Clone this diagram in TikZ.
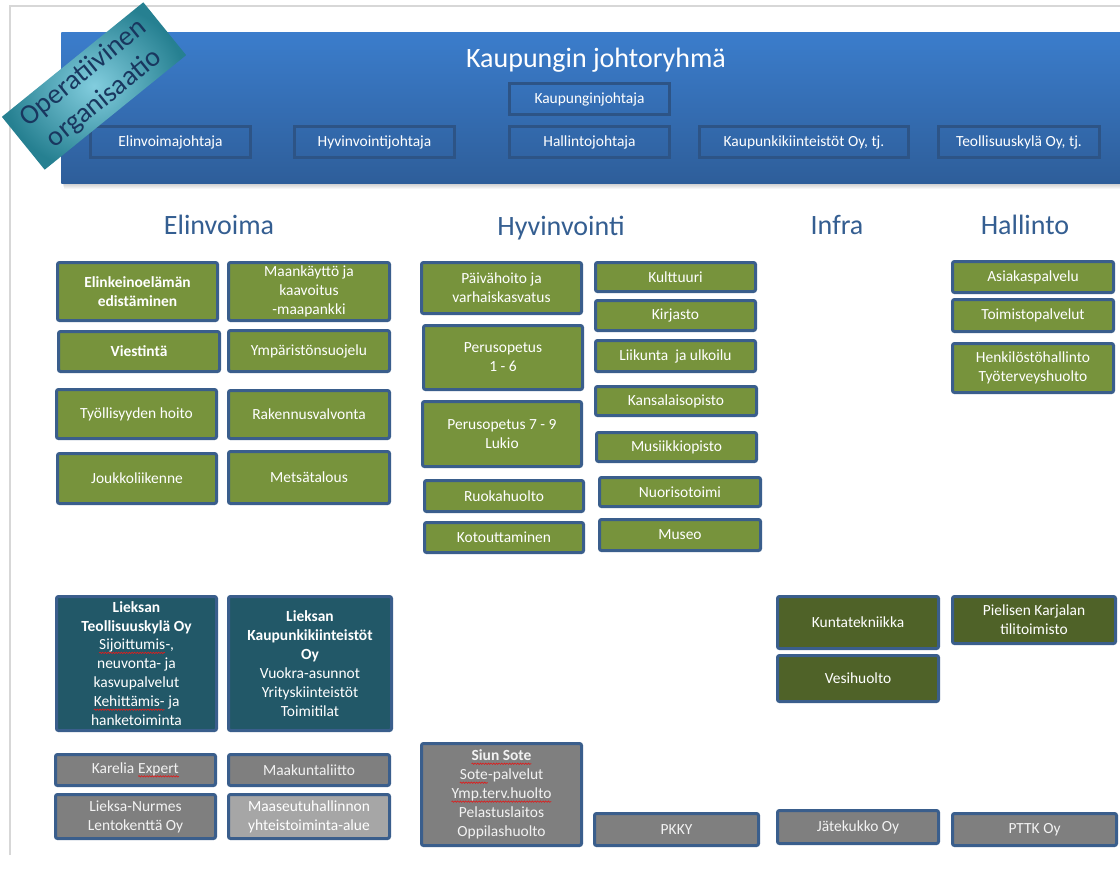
\documentclass[tikz,border=0pt]{standalone}
\usepackage{fontspec}
\setmainfont{Carlito}
\usetikzlibrary{decorations.pathmorphing}
\definecolor{ogreen}{RGB}{119,147,60}
\definecolor{bordblue}{RGB}{58,94,140}
\definecolor{dteal}{RGB}{34,88,104}
\definecolor{dolive}{RGB}{79,98,40}
\definecolor{mgray}{RGB}{127,127,127}
\definecolor{lgray}{RGB}{166,166,166}
\definecolor{hdtop}{RGB}{59,125,204}
\definecolor{hdbot}{RGB}{46,94,154}
\definecolor{hdbord}{RGB}{45,84,134}
\definecolor{ttlblue}{RGB}{52,94,145}
\definecolor{banlight}{RGB}{130,205,222}
\definecolor{bandark}{RGB}{38,128,145}
\definecolor{bantext}{RGB}{25,55,95}
\definecolor{framegray}{RGB}{215,215,215}
\definecolor{spellred}{RGB}{220,30,30}
\newcommand\bxfont{\fontsize{11.6}{14.2}\selectfont}
\newcommand\ttlfont{\fontsize{21}{25}\selectfont}
\newcommand\sperr[1]{\tikz[baseline=(sw.base), x=1pt, y=1pt]{\node[rectangle, inner sep=0pt, outer sep=0pt, draw=none, fill=none, rounded corners=0pt, minimum size=0pt, anchor=center] (sw) {#1}; \draw[spellred, fill=none, line width=0.5pt, rounded corners=0pt, decorate, decoration={snake, amplitude=0.5pt, segment length=2pt}] ([yshift=-2.2pt]sw.base west) -- ([yshift=-2.2pt]sw.base east);}}
\newcommand\orgbox[7]{\node[#1, minimum width={(#5-#3-3)*0.75pt}, minimum height={(#6-#4-3)*0.75pt}] (#2) at ({(#3+#5)/2},{(#4+#6)/2}) {#7};}
\tikzset{
  boxbase/.style={rectangle, rounded corners=1.5pt, draw=bordblue, line width=2.25pt, text=white, font=\bxfont, align=center, inner sep=0pt},
  gbox/.style={boxbase, fill=ogreen},
  gbold/.style={gbox, font=\bxfont\bfseries},
  tbox/.style={boxbase, fill=dteal},
  olbox/.style={boxbase, fill=dolive},
  graybox/.style={boxbase, fill=mgray, text={white!95!black}},
  lgraybox/.style={boxbase, fill=lgray},
  hbox/.style={rectangle, draw=hdbord, line width=2.25pt, text=white, font=\bxfont, inner sep=0pt},
  sectitle/.style={anchor=base, text=ttlblue, font=\ttlfont, inner sep=0pt}
}
\begin{document}
\begin{tikzpicture}[x=0.75pt,y=-0.75pt]
\useasboundingbox (0,0) rectangle (1120,883);
\fill[white] (0,0) rectangle (1120,883);
% page frame
\draw[framegray, line width=1.5pt] (10,855) -- (10,6) -- (1120,6);
% header shadow
\foreach \i in {1,...,6} {\fill[black, opacity=0.035] (62+\i*0.3,32+\i) rectangle (1120,183+\i);}
% header
\node[rectangle, inner sep=0pt, anchor=north west, top color=hdtop, bottom color=hdbot, draw=none, minimum width={1059*0.75pt}, minimum height={151*0.75pt}] (header) at (61,32) {};
\node[anchor=base, text=white, font=\ttlfont, inner sep=0pt] (title) at (596,67) {Kaupungin johtoryhmä};
\orgbox{hbox}{kj}{508}{82}{671}{116}{Kaupunginjohtaja}
\orgbox{hbox}{ej}{89}{125}{252}{159}{Elinvoimajohtaja}
\orgbox{hbox}{hj}{293}{125}{456}{159}{Hyvinvointijohtaja}
\orgbox{hbox}{haj}{508}{125}{671}{159}{Hallintojohtaja}
\orgbox{hbox}{kkj}{698}{125}{910}{159}{Kaupunkikiinteistöt Oy, tj.}
\orgbox{hbox}{tkj}{937}{125}{1101}{159}{Teollisuuskylä Oy, tj.}
% banner
\node[rotate=39, rectangle, inner sep=0pt, inner color=banlight, outer color=bandark, minimum width={182*0.75pt}, minimum height={68*0.75pt}, align=center, text=bantext, font=\fontsize{21}{24.5}\selectfont] (banner) at (94,86) {Operatiivinen\\organisaatio};
% section titles
\node[sectitle] (telin) at (219,234) {Elinvoima};
\node[sectitle] (thyv) at (561,235) {Hyvinvointi};
\node[sectitle] (tinfra) at (837,234) {Infra};
\node[sectitle] (thall) at (1025,234) {Hallinto};
% Elinvoima
\orgbox{gbold}{e1}{56}{261}{219}{322}{Elinkeinoelämän\\edistäminen}
\orgbox{gbox}{e2}{227}{261}{391}{322}{Maankäyttö ja\\kaavoitus\\-maapankki}
\orgbox{gbold}{e3}{57}{330}{221}{373}{Viestintä}
\orgbox{gbox}{e4}{227}{329}{391}{373}{Ympäristönsuojelu}
\orgbox{gbox}{e5}{55}{388}{218}{440}{Työllisyyden hoito}
\orgbox{gbox}{e6}{227}{389}{391}{440}{Rakennusvalvonta}
\orgbox{gbox}{e7}{56}{452}{218}{505}{Joukkoliikenne}
\orgbox{gbox}{e8}{227}{450}{391}{505}{Metsätalous}
% Hyvinvointi
\orgbox{gbox}{h1}{420}{261}{583}{315}{Päivähoito ja\\varhaiskasvatus}
\orgbox{gbox}{h2}{422}{324}{584}{391}{Perusopetus\\1 - 6}
\orgbox{gbox}{h3}{421}{400}{583}{468}{Perusopetus 7 - 9\\Lukio}
\orgbox{gbox}{h4}{423}{479}{585}{513}{Ruokahuolto}
\orgbox{gbox}{h5}{423}{521}{585}{554}{Kotouttaminen}
\orgbox{gbox}{h6}{594}{261}{757}{293}{Kulttuuri}
\orgbox{gbox}{h7}{594}{299}{757}{332}{Kirjasto}
\orgbox{gbox}{h8}{594}{339}{757}{373}{Liikunta\ \ ja ulkoilu}
\orgbox{gbox}{h9}{594}{385}{758}{417}{Kansalaisopisto}
\orgbox{gbox}{h10}{595}{431}{758}{463}{Musiikkiopisto}
\orgbox{gbox}{h11}{598}{476}{762}{508}{Nuorisotoimi}
\orgbox{gbox}{h12}{598}{518}{762}{552}{Museo}
% Hallinto
\orgbox{gbox}{a1}{951}{260}{1115}{294}{Asiakaspalvelu}
\orgbox{gbox}{a2}{951}{298}{1115}{333}{Toimistopalvelut}
\orgbox{gbox}{a3}{951}{342}{1115}{394}{Henkilöstöhallinto\\Työterveyshuolto}
% companies
\orgbox{tbox}{c1}{55}{595}{218}{732}{\textbf{Lieksan}\\\textbf{Teollisuuskylä Oy}\\\sperr{Sijoittumis}-,\\neuvonta- ja\\kasvupalvelut\\\sperr{Kehittämis-} ja\\hanketoiminta}
\orgbox{tbox}{c2}{227}{595}{393}{732}{\textbf{Lieksan}\\\textbf{Kaupunkikiinteistöt}\\\textbf{Oy}\\Vuokra-asunnot\\Yrityskiinteistöt\\Toimitilat}
\orgbox{olbox}{i1}{776}{595}{940}{650}{Kuntatekniikka}
\orgbox{olbox}{i2}{776}{654}{940}{703}{Vesihuolto}
\orgbox{olbox}{p1}{951}{595}{1117}{645}{Pielisen Karjalan\\tilitoimisto}
\orgbox{graybox}{c3}{54}{753}{217}{787}{Karelia \sperr{Expert}}
\orgbox{graybox}{c4}{227}{753}{391}{787}{Maakuntaliitto}
\orgbox{graybox}{c5}{54}{793}{217}{840}{Lieksa-Nurmes\\Lentokenttä Oy}
\orgbox{lgraybox}{c6}{227}{793}{391}{840}{Maaseutuhallinnon\\yhteistoiminta-alue}
\orgbox{graybox}{c7}{420}{742}{583}{847}{\sperr{\textbf{Siun Sote}}\\\sperr{Sote}-palvelut\\\sperr{Ymp.terv.huolto}\\Pelastuslaitos\\Oppilashuolto}
\orgbox{graybox}{c8}{593}{812}{760}{847}{PKKY}
\orgbox{graybox}{i3}{776}{809}{940}{845}{Jätekukko Oy}
\orgbox{graybox}{p2}{951}{812}{1118}{847}{PTTK Oy}
\end{tikzpicture}
\end{document}
